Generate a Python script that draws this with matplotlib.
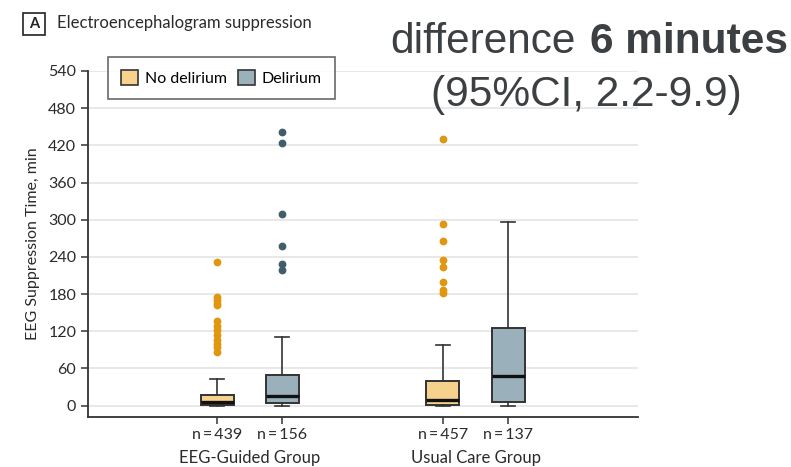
import matplotlib.pyplot as plt
from matplotlib.patches import Patch, Rectangle

# box-plot summaries (minutes), order: EEG no delirium, EEG delirium, usual no delirium, usual delirium
groups = ["EEG-Guided Group", "Usual Care Group"]
series = ["No delirium", "Delirium"]
counts = ["n\u2009=\u2009439", "n\u2009=\u2009156", "n\u2009=\u2009457", "n\u2009=\u2009137"]
whislo = [0, 0, 0, 0]
q1 = [0.6, 4, 1.5, 6.5]
med = [5.5, 16, 9, 48]
q3 = [17, 49, 39, 125]
whishi = [43, 111, 97, 297]
fliers = [
    [231, 176, 171, 166, 162, 136, 128, 122, 114, 106, 100, 95, 86],
    [441, 423, 309, 257, 228, 218],
    [431, 293, 265, 235, 224, 199, 187, 182],
    [],
]

fills = ["#f7d28d", "#9ab1bb"]
dots = ["#e0960f", "#3f5e6a"]
ink = "#333333"
font = ["Lato", "DejaVu Sans"]

plt.rcParams["font.family"] = font
fig = plt.figure(figsize=(7.91, 4.67), dpi=100)
ax = fig.add_axes([88 / 791, 1 - 416.7 / 467, 550 / 791, (416.7 - 71) / 467])

offset = 0.144
positions = []
for g in range(len(groups)):
    for s in range(len(series)):
        positions.append(g + 1 + (s - 0.5) * 2 * offset)

stats = []
for i in range(4):
    stats.append(dict(whislo=whislo[i], q1=q1[i], med=med[i], q3=q3[i],
                      whishi=whishi[i], fliers=fliers[i]))

bp = ax.bxp(stats, positions=positions, widths=0.146, patch_artist=True,
            showfliers=True, manage_ticks=False)
for i, box in enumerate(bp["boxes"]):
    box.set_facecolor(fills[i % 2])
    box.set_edgecolor(ink)
    box.set_linewidth(1.4)
for line in bp["whiskers"] + bp["caps"]:
    line.set_color(ink)
    line.set_linewidth(1.2)
for line in bp["medians"]:
    line.set_color("#111111")
    line.set_linewidth(2.4)
for i, fl in enumerate(bp["fliers"]):
    fl.set_marker("o")
    fl.set_markersize(4.6)
    fl.set_markerfacecolor(dots[i % 2])
    fl.set_markeredgecolor(dots[i % 2])

# narrow the whisker caps
for i, cap in enumerate(bp["caps"]):
    x = positions[i // 2]
    cap.set_xdata([x - 0.032, x + 0.032])

ax.set_xlim(0.285, 2.719)
ax.set_ylim(-18, 540)
ax.set_yticks(range(0, 541, 60))
ax.yaxis.grid(True, color="#e6e6e6", linewidth=1.3)
ax.set_axisbelow(True)
for side in ["top", "right"]:
    ax.spines[side].set_visible(False)
for side in ["left", "bottom"]:
    ax.spines[side].set_color(ink)
    ax.spines[side].set_linewidth(1.3)

ax.set_xticks(positions)
ax.set_xticklabels(counts)
ax.tick_params(axis="both", colors=ink, labelcolor="#2b2b2b", labelsize=11.5,
               length=5, width=1.1)
ax.tick_params(axis="x", pad=3)
ax.set_ylabel("EEG Suppression Time, min", fontsize=11.5, color="#2b2b2b", labelpad=6)

for g, name in enumerate(groups):
    ax.text(g + 1, -0.12, name, transform=ax.get_xaxis_transform(),
            ha="center", va="center", fontsize=12, color="#2b2b2b")

handles = [Patch(facecolor=fills[i], edgecolor=ink, linewidth=1.2, label=series[i])
           for i in range(2)]
leg = fig.legend(handles=handles, loc="upper left", ncol=2,
                 bbox_to_anchor=(108 / 791, 1 - 57 / 467), borderaxespad=0,
                 fontsize=11.5, frameon=True, fancybox=False, edgecolor="#444444",
                 handlelength=1.1, handleheight=1.1, handletextpad=0.4,
                 columnspacing=0.7, borderpad=0.8)
leg.get_frame().set_linewidth(1.2)

# panel letter and title
fig.patches.append(Rectangle((23 / 791, 1 - 35 / 467), 22 / 791, 22 / 467,
                             transform=fig.transFigure, facecolor="white",
                             edgecolor="#222222", linewidth=1.2))
fig.text(34 / 791, 1 - 24 / 467, "A", ha="center", va="center",
         fontsize=10.5, fontweight="bold", color="#222222")
fig.text(57 / 791, 1 - 23 / 467, "Electroencephalogram suppression",
         ha="left", va="center", fontsize=12, color="#2b2b2b")

# effect size annotation
big = ["Liberation Sans", "DejaVu Sans"]
fig.text(576 / 791, 1 - 42 / 467, "difference", ha="right", va="center",
         fontsize=30.5, family=big, color="#3c4043")
fig.text(590 / 791, 1 - 42 / 467, "6 minutes", ha="left", va="center",
         fontsize=30.5, family=big, fontweight="bold", color="#3c4043")
fig.text(586 / 791, 1 - 95 / 467, "(95%CI, 2.2-9.9)", ha="center", va="center",
         fontsize=30.5, family=big, color="#3c4043")

fig.savefig("out.png", dpi=100)
